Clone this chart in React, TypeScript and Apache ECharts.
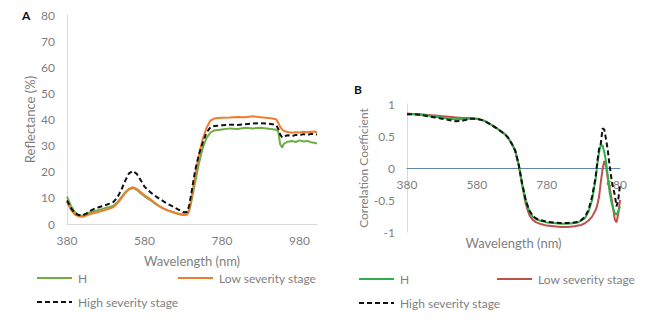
import React, { useEffect, useRef } from "react";
import * as echarts from "echarts";

// Panel A: reflectance spectra
const wlA = [380,390,400,410,420,430,440,450,460,470,480,490,500,510,520,530,540,550,560,570,580,590,600,610,620,630,640,650,660,670,680,690,695,700,710,720,730,740,750,760,770,780,800,820,840,860,880,900,910,920,925,930,935,940,950,960,970,980,990,1000,1010,1020,1025];
const reflH = [10.5,7,4.6,3.4,3.2,3.8,4.5,4.9,5.3,5.7,6.1,6.5,7,8.3,10.2,12.1,13.3,13.8,13.1,11.8,10.6,9.6,8.6,7.5,6.6,5.8,5.2,4.7,4.2,3.8,3.6,3.8,5,8,15.5,23,29,33,35,35.8,36,36.2,36.6,36.4,36.8,36.6,36.8,36.5,36.3,36.1,35.4,30.5,29.3,30.8,31.5,31.8,31.4,32,31.6,31.8,31.3,31,30.8];
const reflLow = [8.5,5.5,3.6,2.9,2.8,3.2,3.8,4.2,4.6,5,5.4,5.9,6.5,7.9,9.8,11.8,13.4,14.1,13.4,12.2,11,10,8.9,7.7,6.7,5.9,5.2,4.7,4.2,3.7,3.4,3.5,5.5,9,18,26,32.5,36.8,39.6,40.4,40.6,40.7,40.8,41,40.9,41.2,40.9,40.6,40.4,40,38.8,37.2,36.2,35.6,35.2,34.9,35.1,35,35.3,35.1,35.3,35.4,34.9];
const reflHigh = [9,6.2,4.2,3.4,3.3,4,5,5.8,6.3,6.8,7.3,7.8,8.5,10.2,13,16.5,19.4,20.3,19.2,16.8,14.3,12.8,11.6,10.5,9.5,8.6,7.7,6.9,6.1,5.3,4.5,4.6,7,11,20,26.5,31,35,37,37.5,37.6,37.8,38,37.9,38.2,38.5,38.6,38.4,38.2,37.8,36.5,34.2,33.2,33.6,34,33.6,34.1,34,34.4,34.1,34.5,34.4,34.2];
const yTicksA = { min: 0, max: 80, interval: 10 };

// Panel B: correlation coefficient
const wlB = [380,400,420,440,460,480,500,520,540,560,580,600,620,640,660,670,680,690,700,710,720,730,740,750,760,780,800,820,840,860,870,880,890,900,910,920,925,930,935,940,945,950,955,960,965,970,975,980,985,990];
const corrH = [0.84,0.84,0.83,0.82,0.8,0.79,0.77,0.76,0.76,0.77,0.77,0.74,0.68,0.61,0.53,0.47,0.38,0.27,0.05,-0.25,-0.5,-0.67,-0.76,-0.8,-0.82,-0.85,-0.86,-0.87,-0.87,-0.86,-0.85,-0.82,-0.78,-0.68,-0.5,-0.18,0.05,0.25,0.36,0.35,0.25,0.1,-0.12,-0.37,-0.52,-0.63,-0.7,-0.73,-0.68,-0.6];
const corrLow = [0.85,0.84,0.84,0.83,0.82,0.81,0.8,0.79,0.78,0.78,0.77,0.74,0.68,0.61,0.53,0.47,0.38,0.27,0.04,-0.28,-0.56,-0.73,-0.81,-0.85,-0.87,-0.9,-0.91,-0.92,-0.92,-0.91,-0.9,-0.89,-0.86,-0.82,-0.76,-0.66,-0.58,-0.45,-0.22,-0.02,0.11,0.03,-0.16,-0.3,-0.45,-0.62,-0.8,-0.85,-0.72,-0.5];
const corrHigh = [0.84,0.84,0.83,0.81,0.79,0.77,0.75,0.73,0.74,0.77,0.77,0.74,0.68,0.61,0.53,0.47,0.38,0.27,0.05,-0.25,-0.5,-0.66,-0.75,-0.79,-0.81,-0.84,-0.85,-0.86,-0.86,-0.85,-0.84,-0.81,-0.76,-0.65,-0.45,-0.15,0.1,0.3,0.38,0.62,0.6,0.45,0.28,0.05,-0.15,-0.3,-0.42,-0.6,-0.5,-0.27];

const seriesNames = ["H", "Low severity stage", "High severity stage"];
const colorsA = ["#70ad47", "#ed7d31", "#111111"];
const colorsB = ["#2fb04a", "#c0504d", "#111111"];
const xTickStart = 380;
const xTickStep = 200;

const FONT = "Lato";
const GRAY = "#7f7f7f";
const DASH = [5, 3];

const pairs = (xs: number[], ys: number[]) => xs.map((x, i) => [x, ys[i]]);

export default function App() {
  const ref = useRef<HTMLDivElement>(null);
  useEffect(() => {
    if (!ref.current) return;
    const chart = echarts.init(ref.current, null, { renderer: "svg" });
    const mkLine = (name: string, data: number[][], color: string, idx: number, dashed = false, z = 2) => ({
      type: "line",
      name,
      data,
      xAxisIndex: idx,
      yAxisIndex: idx,
      showSymbol: false,
      symbol: "none",
      z,
      lineStyle: dashed ? { type: DASH, width: 2, color } : { width: 2, color },
      itemStyle: { color },
    });
    const legendItem = (name: string, color: string, dashed: boolean, x: number, y: number) => ({
      type: "group",
      children: [
        {
          type: "line",
          shape: { x1: x, y1: y, x2: x + 35, y2: y },
          style: { stroke: color, lineWidth: 2, lineDash: dashed ? DASH : null },
        },
        {
          type: "text",
          x: x + 41,
          y,
          style: { text: name, fill: GRAY, font: `12px ${FONT}`, verticalAlign: "middle", align: "left" },
        },
      ],
    });
    chart.setOption({
      animation: false,
      backgroundColor: "#ffffff",
      textStyle: { fontFamily: FONT },
      graphic: [
        { type: "text", left: 22, top: 9, style: { text: "A", font: `bold 12px ${FONT}`, fill: "#111" } },
        { type: "text", left: 354, top: 83, style: { text: "B", font: `bold 12px ${FONT}`, fill: "#111" } },
        legendItem(seriesNames[0], colorsA[0], false, 37, 278),
        legendItem(seriesNames[1], colorsA[1], false, 178, 278),
        legendItem(seriesNames[2], colorsA[2], true, 37, 302),
        legendItem(seriesNames[0], colorsB[0], false, 359, 279),
        legendItem(seriesNames[1], colorsB[1], false, 497, 279),
        legendItem(seriesNames[2], colorsB[2], true, 359, 303),
      ],
      grid: [
        { left: 67, top: 15, width: 250, height: 209 },
        { left: 407, top: 104, width: 213, height: 128 },
      ],
      xAxis: [
        {
          type: "value", gridIndex: 0, min: xTickStart, max: 1025, interval: xTickStep,
          name: "Wavelength (nm)", nameLocation: "middle", nameGap: 30,
          nameTextStyle: { color: GRAY, fontSize: 13, fontFamily: FONT },
          axisLine: { lineStyle: { color: "#d9d9d9", width: 1 } },
          axisTick: { show: false }, splitLine: { show: false },
          axisLabel: { color: GRAY, fontSize: 12, margin: 10, showMaxLabel: false, fontFamily: FONT },
        },
        {
          type: "value", gridIndex: 1, min: xTickStart, max: 990, interval: xTickStep,
          position: "bottom", offset: -64,
          name: "Wavelength (nm)", nameLocation: "middle", nameGap: 68,
          nameTextStyle: { color: GRAY, fontSize: 13, fontFamily: FONT },
          axisLine: { onZero: false, lineStyle: { color: "#5e86b0", width: 1 } },
          axisTick: { show: false }, splitLine: { show: false },
          axisLabel: { color: GRAY, fontSize: 12, margin: 10, showMaxLabel: false, fontFamily: FONT },
        },
      ],
      yAxis: [
        {
          type: "value", gridIndex: 0, min: yTicksA.min, max: yTicksA.max, interval: yTicksA.interval,
          name: "Reflectance (%)", nameLocation: "middle", nameGap: 31,
          nameTextStyle: { color: GRAY, fontSize: 13, fontFamily: FONT },
          axisLine: { show: true, lineStyle: { color: "#d9d9d9", width: 1 } },
          axisTick: { show: false }, splitLine: { show: false },
          axisLabel: { color: GRAY, fontSize: 12, margin: 12, fontFamily: FONT },
        },
        {
          type: "value", gridIndex: 1, min: -1, max: 1, interval: 0.5,
          name: "Correlation Coefficient", nameLocation: "middle", nameGap: 38,
          nameTextStyle: { color: GRAY, fontSize: 12, fontFamily: FONT },
          axisLine: { show: true, lineStyle: { color: "#d9d9d9", width: 1 } },
          axisTick: { show: false }, splitLine: { show: false },
          axisLabel: { color: GRAY, fontSize: 12, margin: 12, fontFamily: FONT },
        },
      ],
      series: [
        mkLine(seriesNames[0], pairs(wlA, reflH), colorsA[0], 0, false, 2),
        mkLine(seriesNames[1], pairs(wlA, reflLow), colorsA[1], 0, false, 3),
        mkLine(seriesNames[2], pairs(wlA, reflHigh), colorsA[2], 0, true, 4),
        mkLine(seriesNames[1] + " (B)", pairs(wlB, corrLow), colorsB[1], 1, false, 2),
        mkLine(seriesNames[0] + " (B)", pairs(wlB, corrH), colorsB[0], 1, false, 3),
        mkLine(seriesNames[2] + " (B)", pairs(wlB, corrHigh), colorsB[2], 1, true, 4),
      ],
    });
    return () => chart.dispose();
  }, []);
  return (
    <div
      ref={ref}
      style={{ position: "fixed", left: 0, top: 0, width: 650, height: 323, background: "#fff" }}
    />
  );
}
